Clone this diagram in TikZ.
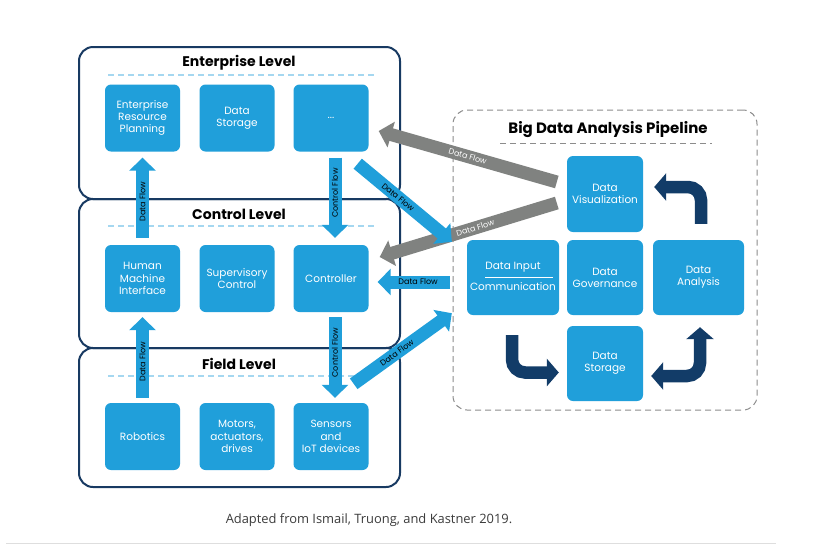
\documentclass[tikz,border=0pt]{standalone}
\usepackage{fontspec}
\setmainfont{Poppins}
\newfontfamily\capfont{Open Sans}
\usetikzlibrary{arrows.meta,calc}
\definecolor{boxblue}{RGB}{32,159,218}
\definecolor{navy}{RGB}{24,58,98}
\definecolor{darknavy}{RGB}{18,60,104}
\definecolor{sepblue}{RGB}{165,215,240}
\definecolor{flowgray}{RGB}{128,130,128}
\definecolor{dashgray}{RGB}{140,140,140}
\definecolor{capgray}{RGB}{60,60,60}
\definecolor{rulegray}{RGB}{222,222,222}
\tikzset{
  levelbox/.style={draw=navy, line width=2pt, rounded corners=14pt, inner sep=0pt},
  leveltitle/.style={font=\bfseries\fontsize{14}{16}\selectfont, text=black, inner sep=0pt},
  sepline/.style={draw=sepblue, line width=1.2pt, dash pattern=on 6pt off 4pt},
  unit/.style={fill=boxblue, rounded corners=6pt, text=white, align=center,
    font=\fontsize{10.5}{12.2}\selectfont, inner sep=0pt, minimum width=75pt, minimum height=67pt},
  flowarrow/.style={line width=13pt, -{Triangle[width=26pt,length=13pt]}},
  bluearrow/.style={flowarrow, draw=boxblue},
  grayarrow/.style={flowarrow, draw=flowgray},
  navyarrow/.style={line width=12.5pt, draw=darknavy, rounded corners=13pt},
  lbl/.style={font=\fontsize{8}{9}\selectfont, inner sep=0pt, text=black},
  wlbl/.style={font=\fontsize{8}{9}\selectfont, inner sep=0pt, text=white},
}
\begin{document}
\begin{tikzpicture}[x=1pt,y=-1pt]
\useasboundingbox (0,0) rectangle (822,555);
\fill[white] (0,0) rectangle (822,555);

% level frames
\node[levelbox, minimum width=321pt, minimum height=152pt] (entL) at (239.5,123) {};
\node[levelbox, minimum width=321pt, minimum height=149pt] (ctlL) at (239.5,273.5) {};
\node[levelbox, minimum width=321pt, minimum height=139pt] (fldL) at (239.5,417.5) {};

\node[leveltitle] (entT) at (239,63) {Enterprise Level};
\node[leveltitle] (ctlT) at (239,214) {Control Level};
\node[leveltitle] (fldT) at (239,364) {Field Level};

\draw[sepline] (108,75) -- (376,75);
\draw[sepline] (108,226) -- (376,226);
\draw[sepline] (108,376) -- (376,376);

% units
\node[unit] (erp) at (142.5,118) {Enterprise\\Resource\\Planning};
\node[unit] (dstore) at (237,118) {Data\\Storage};
\node[unit] (dots) at (331,118) {...};
\node[unit] (hmi) at (142.5,278.5) {Human\\Machine\\Interface};
\node[unit] (sup) at (237,278.5) {Supervisory\\Control};
\node[unit] (ctrl) at (331,278.5) {Controller};
\node[unit] (robot) at (142.5,436.5) {Robotics};
\node[unit] (motor) at (237,436.5) {Motors,\\actuators,\\drives};
\node[unit] (sensor) at (331,436.5) {Sensors\\and\\IoT devices};

% pipeline frame
\node[draw=dashgray, line width=1pt, dash pattern=on 6pt off 4pt, rounded corners=14pt,
  minimum width=304pt, minimum height=300pt, inner sep=0pt] (pipe) at (605,260) {};
\node[leveltitle, font=\bfseries\fontsize{15}{17}\selectfont] (pipeT) at (608,130) {Big Data Analysis Pipeline};
\draw[draw=dashgray, line width=1pt, dash pattern=on 6pt off 4pt] (500,143) -- (712,143);

\node[unit, minimum width=76pt, minimum height=76pt] (viz) at (605,194) {Data\\Visualization};
\node[unit, minimum width=92pt, minimum height=75pt] (input) at (513,277.5) {};
\node[text=white, font=\fontsize{10.5}{12}\selectfont, inner sep=0pt] (inputA) at (513,267) {Data Input};
\node[text=white, font=\fontsize{10.5}{12}\selectfont, inner sep=0pt] (inputB) at (513,286.5) {Communication};
\draw[white, line width=0.8pt] (485,277) -- (553,277);
\node[unit, minimum width=76pt, minimum height=75pt] (gov) at (605,277.5) {Data\\Governance};
\node[unit, minimum width=91pt, minimum height=75pt] (analysis) at (698.5,277.5) {Data\\Analysis};
\node[unit, minimum width=76pt, minimum height=75pt] (storage) at (605,363.5) {Data\\Storage};

% gray flows
\draw[grayarrow] ($(viz.west)+(-10,-12)$) -- ($(dots.east)+(10,13)$)
  node[wlbl, sloped, pos=0.5] {Data Flow};
\draw[grayarrow] ($(viz.west)+(-10,9)$) -- ($(ctrl.east)+(11,-21.5)$)
  node[wlbl, sloped, pos=0.46] {Data Flow};

% blue flows
\draw[bluearrow] ($(hmi.north)+(0,-7)$) -- ($(erp.south)+(0,6)$)
  node[lbl, sloped, pos=0.45] {Data Flow};
\draw[bluearrow] ($(robot.north)+(0,-5)$) -- ($(hmi.south)+(0,5)$)
  node[lbl, sloped, pos=0.45] {Data Flow};
\draw[bluearrow] ($(dots.south)+(4,6)$) -- ($(ctrl.north)+(4,-7)$)
  node[lbl, rotate=90, pos=0.44] {Control Flow};
\draw[bluearrow] ($(ctrl.south)+(4,5)$) -- ($(sensor.north)+(4,-5)$)
  node[lbl, rotate=90, pos=0.44] {Control Flow};
\draw[bluearrow] ($(dots.south east)+(-11,12)$) -- ($(input.north west)+(-15,2)$)
  node[lbl, sloped, pos=0.43] {Data Flow};
\draw[bluearrow] ($(sensor.north east)+(-15,-19)$) -- ($(input.south west)+(-15,-2)$)
  node[lbl, sloped, pos=0.44] {Data Flow};
\draw[bluearrow] ($(input.west)+(-17,4.5)$) -- ($(ctrl.east)+(9,3.5)$)
  node[lbl, pos=0.44] {Data Flow};

% pipeline cycle arrows
\draw[navyarrow, -{Triangle[width=27pt,length=12pt]}]
  ($(input.south)+(-1,20)$) |- ($(storage.west)+(-8,9)$);
\draw[navyarrow, {Triangle[width=27pt,length=12pt]}-{Triangle[width=27pt,length=12pt]}]
  ($(storage.east)+(8,12.5)$) -| ($(analysis.south)+(1.5,12)$);
\draw[navyarrow, -{Triangle[width=27pt,length=12pt]}]
  ($(analysis.north)+(2.5,-16)$) |- ($(viz.east)+(11,-7)$);

% caption
\node[font=\capfont\fontsize{12.9}{15}\selectfont, text=capgray, inner sep=0pt] (cap) at (369,520)
  {Adapted from Ismail, Truong, and Kastner 2019.};
\draw[rulegray, line width=1pt] (6,543) -- (776,543);
\end{tikzpicture}
\end{document}
